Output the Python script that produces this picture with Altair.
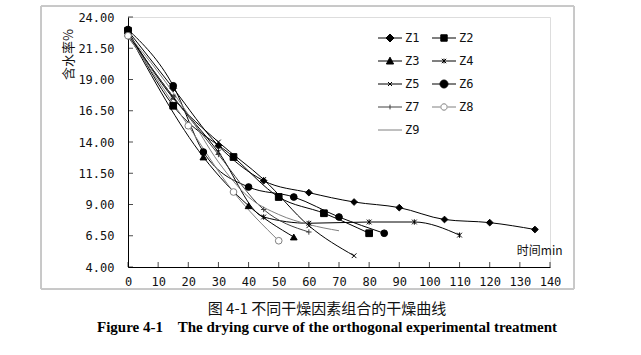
import altair as alt
import pandas as pd

series = ["Z1", "Z2", "Z3", "Z4", "Z5", "Z6", "Z7", "Z8", "Z9"]

z1_t = [0, 15, 30, 45, 60, 75, 90, 105, 120, 135]
z1_v = [22.9, 18.3, 13.7, 10.9, 9.95, 9.2, 8.75, 7.8, 7.55, 7.0]
z2_t = [0, 15, 35, 50, 65, 80]
z2_v = [22.9, 16.9, 12.8, 9.6, 8.3, 6.7]
z3_t = [0, 25, 40, 55]
z3_v = [22.7, 12.8, 8.9, 6.4]
z4_t = [0, 15, 30, 45, 60, 80, 95, 110]
z4_v = [22.6, 17.6, 13.2, 8.0, 7.5, 7.6, 7.6, 6.55]
z5_t = [0, 15, 30, 45, 60, 75]
z5_v = [22.8, 17.5, 14.0, 11.0, 7.3, 4.9]
z6_t = [0, 15, 25, 40, 55, 70, 85]
z6_v = [23.0, 18.5, 13.2, 10.4, 9.6, 8.0, 6.7]
z7_t = [0, 15, 30, 45, 60]
z7_v = [22.4, 17.6, 13.0, 8.6, 6.8]
z8_t = [0, 20, 35, 50]
z8_v = [22.5, 15.3, 10.0, 6.1]
z9_t = [0, 10, 20, 30, 40, 50, 60, 70]
z9_v = [22.6, 19.6, 16.2, 12.4, 9.6, 8.2, 7.4, 6.9]

x_ticks = [0, 10, 20, 30, 40, 50, 60, 70, 80, 90, 100, 110, 120, 130, 140]
y_ticks = [4.0, 6.5, 9.0, 11.5, 14.0, 16.5, 19.0, 21.5, 24.0]

all_t = [z1_t, z2_t, z3_t, z4_t, z5_t, z6_t, z7_t, z8_t, z9_t]
all_v = [z1_v, z2_v, z3_v, z4_v, z5_v, z6_v, z7_v, z8_v, z9_v]
rows = []
for name, ts, vs in zip(series, all_t, all_v):
    for t, v in zip(ts, vs):
        rows.append({"series": name, "t": t, "v": v})
df = pd.DataFrame(rows)

W, H = 422, 250
MONO = "DejaVu Sans Mono"
CJK = "Noto Sans CJK SC"

line_colors = ["#000000"] * 6 + ["#404040", "#808080", "#808080"]
fill_colors = ["#000000", "#000000", "#000000", "transparent", "transparent",
               "#000000", "transparent", "#ffffff", "transparent"]

ASTER = "M-0.7,-0.7L0.7,0.7M-0.7,0.7L0.7,-0.7M0,-0.8L0,0.8"
XMARK = "M-0.7,-0.7L0.7,0.7M-0.7,0.7L0.7,-0.7"
PLUS = "M0,-0.8L0,0.8M-0.8,0L0.8,0"
chart_shapes = ["diamond", "square", "triangle-up", ASTER, XMARK, "circle", PLUS, "circle"]

LINE = "M-3,0L3,0"
LSPLIT = "M-3,0L-1,0M1,0L3,0"
legend_shapes = [
    LINE + "M0,-1L1,0L0,1L-1,0Z",
    LINE + "M-0.8,-0.8L0.8,-0.8L0.8,0.8L-0.8,0.8Z",
    LINE + "M0,-0.95L0.9,0.75L-0.9,0.75Z",
    LINE + "M-0.55,-0.55L0.55,0.55M-0.55,0.55L0.55,-0.55M0,-0.6L0,0.6",
    LINE + "M-0.5,-0.5L0.5,0.5M-0.5,0.5L0.5,-0.5",
    LINE + "M1,0A1,1,0,1,1,-1,0A1,1,0,1,1,1,0Z",
    LINE + "M0,-0.6L0,0.6",
    LSPLIT + "M0.8,0A0.8,0.8,0,1,1,-0.8,0A0.8,0.8,0,1,1,0.8,0Z",
    LINE,
]

# legend is laid out column by column: reorder so rows read Z1 Z2 / Z3 Z4 / ...
leg_order = [0, 2, 4, 6, 8, 1, 3, 5, 7]
leg_domain = [series[i] for i in leg_order]
leg_shapes = [legend_shapes[i] for i in leg_order]
leg_strokes = [line_colors[i] for i in leg_order]
leg_fills = [fill_colors[i] for i in leg_order]

x_scale = alt.Scale(domain=[0, 140], nice=False, zero=False)
y_scale = alt.Scale(domain=[4, 24], nice=False, zero=False)

x_axis = alt.Axis(
    values=x_ticks, ticks=False, grid=False, labelPadding=9, labelOverlap=False,
    labelFont=MONO, labelFontSize=12, labelColor="#111111",
    domainColor="#000000", title="时间min", titleFont=CJK, titleFontSize=12,
    titleFontWeight="normal", titleColor="#111111", titleX=434, titleY=-17,
    titleAlign="right", titleBaseline="middle", labelFlush=False)
y_axis = alt.Axis(
    values=y_ticks, format=".2f", ticks=False, grid=False, labelPadding=14,
    labelOverlap=False, labelFlush=False,
    labelFont=MONO, labelFontSize=12, labelColor="#111111",
    domainColor="#000000", title="含水率%", titleFont=CJK, titleFontSize=13,
    titleFontWeight="normal", titleColor="#111111", titleX=-60, titleY=37,
    titleAngle=270, titleAlign="center", titleBaseline="middle")


def X():
    return alt.X("t:Q", scale=x_scale, axis=x_axis)


def Y():
    return alt.Y("v:Q", scale=y_scale, axis=y_axis)


lines = alt.Chart(df).mark_line(strokeWidth=1, interpolate="monotone").encode(
    x=X(), y=Y(),
    color=alt.Color("series:N", scale=alt.Scale(domain=series, range=line_colors), legend=None),
    detail="series:N",
)

points = alt.Chart(df).transform_filter(alt.datum.series != "Z9").mark_point(
    size=45, opacity=1, strokeWidth=1, filled=False).encode(
    x=X(), y=Y(),
    shape=alt.Shape("series:N", scale=alt.Scale(domain=series[:8], range=chart_shapes), legend=None),
    stroke=alt.Stroke("series:N", scale=alt.Scale(domain=series[:8], range=line_colors[:8]), legend=None),
    fill=alt.Fill("series:N", scale=alt.Scale(domain=series[:8], range=fill_colors[:8]), legend=None),
)

leg = alt.Legend(orient="none", legendX=256, legendY=15, columns=2, title=None,
                 symbolSize=64, symbolStrokeWidth=1, labelOffset=9, columnPadding=10,
                 rowPadding=11, labelFont=MONO, labelFontSize=12, labelColor="#111111",
                 padding=0, symbolOpacity=1)

legend_layer = alt.Chart(df).mark_point(size=0, opacity=1, strokeWidth=1, filled=False).encode(
    x=X(), y=Y(),
    shape=alt.Shape("series:N", scale=alt.Scale(domain=leg_domain, range=leg_shapes), legend=leg),
    stroke=alt.Stroke("series:N", scale=alt.Scale(domain=leg_domain, range=leg_strokes), legend=leg),
    fill=alt.Fill("series:N", scale=alt.Scale(domain=leg_domain, range=leg_fills), legend=leg),
)

xt_df = pd.DataFrame({"t": x_ticks})
yt_df = pd.DataFrame({"v": y_ticks})
xticks = alt.Chart(xt_df).mark_tick(size=5, thickness=1, color="#000000", yOffset=-2.5,
                                    orient="vertical").encode(
    x=X(), y=alt.value(H))
yticks = alt.Chart(yt_df).mark_tick(size=5, thickness=1, color="#000000", xOffset=2.5,
                                    orient="horizontal").encode(
    y=Y(), x=alt.value(0))

frame = alt.Chart(xt_df).mark_rect(fill="transparent", stroke="#c8c8c8", strokeWidth=1).encode(
    x=alt.value(-87), x2=alt.value(446), y=alt.value(-11), y2=alt.value(272))

chart = alt.layer(frame, lines, points, legend_layer, xticks, yticks).resolve_scale(
    shape="independent", stroke="independent", fill="independent", color="independent"
).resolve_legend(shape="independent", stroke="independent", fill="independent").properties(
    width=W, height=H,
    autosize=alt.AutoSizeParams(type="none"),
    padding={"left": 128, "top": 17, "right": 91, "bottom": 88},
    title=alt.TitleParams(
        text="图 4-1 不同干燥因素组合的干燥曲线",
        subtitle="Figure 4-1\u00a0\u00a0\u00a0 The drying curve of the orthogonal experimental treatment",
        orient="bottom", anchor="middle", font=CJK, fontSize=15, fontWeight="normal",
        color="#111111", subtitleFont="Liberation Serif", subtitleFontSize=15,
        subtitleFontWeight="bold", subtitleColor="#000000", subtitlePadding=3,
        offset=12, dx=-12),
).configure_view(stroke=None).configure_axis(labelOverlap=False).configure(background="white")

chart.save("out.html", embed_options={"renderer": "svg", "actions": False})
